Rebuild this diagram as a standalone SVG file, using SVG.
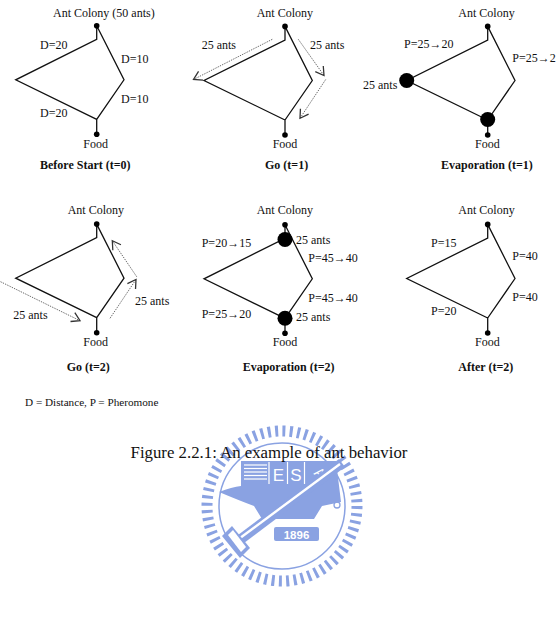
<svg xmlns="http://www.w3.org/2000/svg" width="556" height="631" viewBox="0 0 556 631">
<style>
.t{font-family:"Liberation Serif","Times New Roman",serif;font-size:12px;fill:#111}
.b{font-family:"Liberation Serif","Times New Roman",serif;font-size:12px;font-weight:bold;fill:#111}
.edge{fill:none;stroke:#111;stroke-width:1.3;stroke-linejoin:miter}
.dot{fill:#000}
.big{fill:#000}
.trail{fill:none;stroke:#6a6a6a;stroke-width:1;stroke-dasharray:1.4 1.1;marker-end:url(#vhead)}
.wm{fill:#8aa2e2}
</style>
<defs>
<marker id="vhead" markerUnits="userSpaceOnUse" markerWidth="14" markerHeight="14" refX="0" refY="0" viewBox="-8 -6 10 12" orient="auto" overflow="visible">
<path d="M-7,-4.2 L0,0 L-7,4.2" fill="none" stroke="#333" stroke-width="1.1"/>
</marker>
<g id="shape">
<path class="edge" d="M0,-13.6 L0,0 L-81,40.5 L0,80 L27.3,40.5 Z M0,80 L0,95"/>
<circle class="dot" cx="0" cy="-13.6" r="2.8"/>
<circle class="dot" cx="0" cy="95" r="2.8"/>
</g>
</defs>

<g id="watermark">
<circle cx="282" cy="506" r="75" fill="none" stroke="#8aa2e2" stroke-width="11" stroke-dasharray="3 4.36"/>
<circle cx="282" cy="506" r="63" fill="none" stroke="#8aa2e2" stroke-width="1.5"/>
<path class="wm" d="M241,461 L336,461 L341,502 L322,506 L314,519 L262,519 L254,506 Q238,500 219,492 Q232,487 241,486 Z"/>
<g stroke="#fff" stroke-width="1.2">
<line x1="244" y1="465" x2="267" y2="465"/>
<line x1="244" y1="468.5" x2="267" y2="468.5"/>
<line x1="244" y1="472" x2="267" y2="472"/>
<line x1="244" y1="475.5" x2="267" y2="475.5"/>
<line x1="244" y1="479" x2="267" y2="479"/>
<line x1="269" y1="462" x2="269" y2="484"/>
<line x1="287.5" y1="462" x2="287.5" y2="484"/>
<line x1="304.5" y1="462" x2="304.5" y2="484"/>
</g>
<text x="278.3" y="481" font-family="'Liberation Sans',Arial,sans-serif" font-size="17" fill="#fff" text-anchor="middle">E</text>
<text x="296" y="481" font-family="'Liberation Sans',Arial,sans-serif" font-size="17" fill="#fff" text-anchor="middle">S</text>
<text x="320" y="478" font-family="'Liberation Sans',Arial,sans-serif" font-size="14" fill="#fff" text-anchor="middle" transform="rotate(40 320 473)">A</text>
<line x1="233" y1="545" x2="342" y2="463" stroke="#8aa2e2" stroke-width="10"/>
<line x1="236" y1="541" x2="340" y2="464" stroke="#fff" stroke-width="2.4"/>
<path class="wm" d="M222,536 L232,526 L250,548 L240,558 Z"/>
<path d="M228,535 L233,530 L246,547 L241,552 Z" fill="#fff"/>
<circle cx="337" cy="505" r="3" fill="none" stroke="#8aa2e2" stroke-width="1.3"/>
<rect class="wm" x="274" y="527" width="45" height="14" rx="2"/>
<text x="296.5" y="538.5" font-family="'Liberation Sans',Arial,sans-serif" font-size="11.5" font-weight="bold" fill="#fff" text-anchor="middle">1896</text>
</g>

<g id="panel1">
<use href="#shape" transform="translate(96.7,39.3)"/>
<text class="t" x="53" y="17">Ant Colony (50 ants)</text>
<text class="t" x="40" y="49">D=20</text>
<text class="t" x="121" y="62.7">D=10</text>
<text class="t" x="121" y="102.7">D=10</text>
<text class="t" x="40" y="116.7">D=20</text>
<text class="t" x="83.3" y="148.3">Food</text>
<text class="b" x="40" y="168.5">Before Start (t=0)</text>
</g>

<g id="panel2">
<use href="#shape" transform="translate(285,40)"/>
<text class="t" x="256.7" y="16.7">Ant Colony</text>
<text class="t" x="201.7" y="49">25 ants</text>
<text class="t" x="310" y="49">25 ants</text>
<text class="t" x="272.7" y="148.3">Food</text>
<text class="b" x="265" y="168.5">Go (t=1)</text>
</g>

<g id="panel3">
<use href="#shape" transform="translate(487.7,40)"/>
<circle class="big" cx="406.7" cy="80.5" r="7.5"/>
<circle class="big" cx="487.7" cy="119.5" r="7.5"/>
<text class="t" x="458.3" y="16.7">Ant Colony</text>
<text class="t" x="404" y="48.3">P=25→20</text>
<text class="t" x="512.3" y="62">P=25→2</text>
<text class="t" x="363" y="89.3">25 ants</text>
<text class="t" x="475" y="148.3">Food</text>
<text class="b" x="441" y="168.5">Evaporation (t=1)</text>
</g>

<g id="panel4">
<use href="#shape" transform="translate(96.7,237.7)"/>
<text class="t" x="67.7" y="214.3">Ant Colony</text>
<text class="t" x="13.3" y="319">25 ants</text>
<text class="t" x="135" y="305">25 ants</text>
<text class="t" x="83.3" y="345.7">Food</text>
<text class="b" x="66.7" y="370.7">Go (t=2)</text>
</g>

<g id="panel5">
<use href="#shape" transform="translate(285,238.3)"/>
<circle class="big" cx="285" cy="239.5" r="7.5"/>
<circle class="big" cx="285" cy="318.3" r="7.5"/>
<text class="t" x="256.7" y="214.3">Ant Colony</text>
<text class="t" x="201.7" y="247.3">P=20→15</text>
<text class="t" x="296" y="244">25 ants</text>
<text class="t" x="308.3" y="262.3">P=45→40</text>
<text class="t" x="308.3" y="302.3">P=45→40</text>
<text class="t" x="201.7" y="318.3">P=25→20</text>
<text class="t" x="296" y="320.7">25 ants</text>
<text class="t" x="272.7" y="345.7">Food</text>
<text class="b" x="242.7" y="370.7">Evaporation (t=2)</text>
</g>

<g id="panel6">
<use href="#shape" transform="translate(487.7,238)"/>
<text class="t" x="458.3" y="214">Ant Colony</text>
<text class="t" x="431" y="247.3">P=15</text>
<text class="t" x="512.3" y="260">P=40</text>
<text class="t" x="512.3" y="300.7">P=40</text>
<text class="t" x="431" y="315">P=20</text>
<text class="t" x="475" y="345.7">Food</text>
<text class="b" x="458.3" y="370.7">After (t=2)</text>
</g>

<g id="connectors">
<line class="trail" x1="272.3" y1="39.3" x2="193.5" y2="79.5"/>
<line class="trail" x1="298.3" y1="39.3" x2="324" y2="75.5"/>
<line class="trail" x1="325.7" y1="79.5" x2="300" y2="118.3"/>
<line class="trail" x1="0.5" y1="281.7" x2="80" y2="320.7"/>
<line class="trail" x1="110" y1="318.3" x2="136" y2="279.5"/>
<line class="trail" x1="136.7" y1="276.7" x2="112.3" y2="240.7"/>
</g>

<g id="legend">
<text x="25" y="405.5" font-family="'Liberation Serif','Times New Roman',serif" font-size="11.2" fill="#111">D = Distance, P = Pheromone</text>
<text x="269" y="458.3" font-family="'Liberation Serif','Times New Roman',serif" font-size="16.8" fill="#111" text-anchor="middle">Figure 2.2.1: An example of ant behavior</text>
</g>
</svg>
